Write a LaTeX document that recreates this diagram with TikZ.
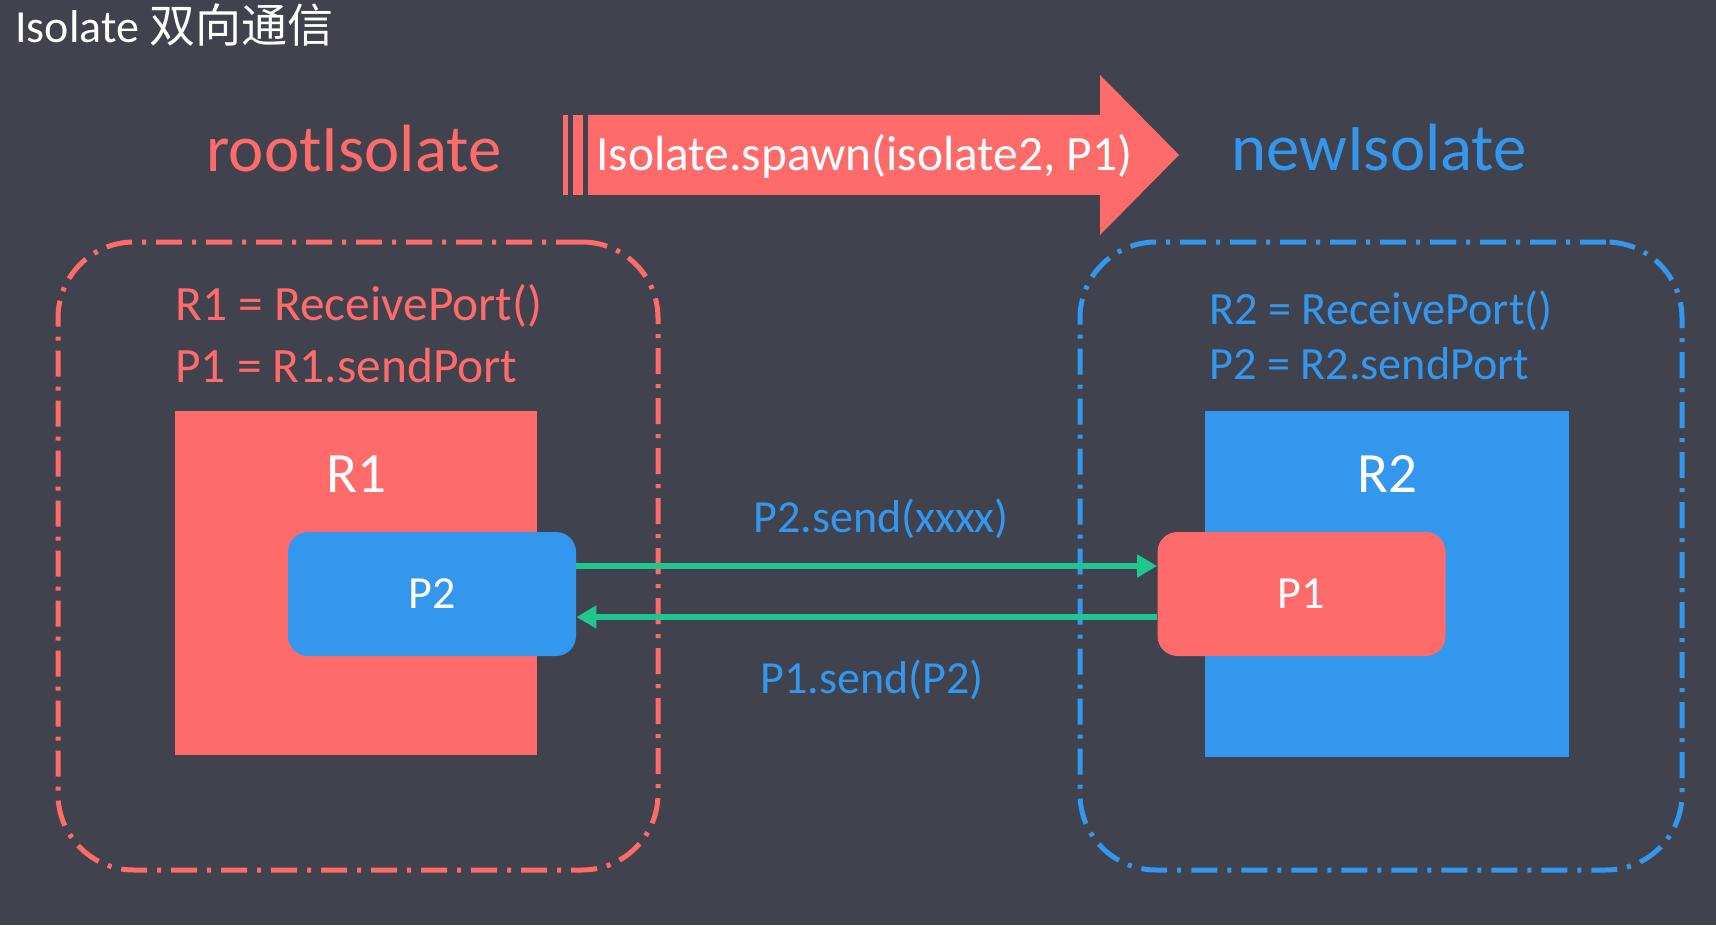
\documentclass[tikz,border=0pt]{standalone}
\usepackage{fontspec}
\setmainfont{Carlito}
\newfontfamily\cjk{Noto Sans CJK SC}
\usepackage{xcolor}
\usepackage{tikz}
\usetikzlibrary{arrows.meta, positioning}

\definecolor{bgdark}{HTML}{40424D}
\definecolor{sred}{HTML}{FF6B6B}
\definecolor{sblue}{HTML}{3497EE}
\definecolor{sgreen}{HTML}{1FC690}

\begin{document}
\begin{tikzpicture}[
    x=0.5pt, y=-0.5pt,
    isobox/.style={rectangle, draw, line width=2.5pt, rounded corners=38pt,
      dash pattern=on 13pt off 5pt on 2pt off 5pt,
      minimum width=300pt, minimum height=314pt},
    portbox/.style={rectangle, fill=#1, minimum width=181pt, minimum height=172pt},
    sendbox/.style={rectangle, rounded corners=10pt, fill=#1, text=white,
      minimum width=144pt, minimum height=62pt, font=\fontsize{23}{28}\selectfont},
    portlab/.style={text=white, font=\fontsize{28.5}{34}\selectfont},
    big/.style={font=\fontsize{33.4}{40}\selectfont, anchor=base},
    code/.style={font=\fontsize{24.7}{29}\selectfont, anchor=base west, inner sep=0pt},
    msg/.style={font=\fontsize{23}{28}\selectfont, text=sblue, anchor=base west, inner sep=0pt},
    flow/.style={draw=sgreen, line width=3pt, -{Triangle[length=10pt, width=11pt]}}
  ]
  \fill[bgdark] (0,0) rectangle (1716,925);
  \useasboundingbox (0,0) rectangle (1716,925);

  \node[anchor=base west, inner sep=0pt, text=white, font=\fontsize{23}{28}\selectfont]
    (title) at (15,43) {Isolate {\cjk 双向通信}};

  \node[big, text=sred] (rootname) at (354,172) {rootIsolate};
  \node[big, text=sblue] (newname) at (1379,171) {newIsolate};

  % spawn arrow
  \fill[sred] (563,115) rectangle (568,195);
  \fill[sred] (573,115) rectangle (583,195);
  \fill[sred] (588,115) -- (1100,115) -- (1100,75) -- (1179,155)
    -- (1100,235) -- (1100,195) -- (588,195) -- cycle;
  \node[code, text=white] (spawn) at (596,170) {Isolate.spawn(isolate2, P1)};

  % root isolate
  \node[isobox, draw=sred] (rootbox) at (358,556) {};
  \node[code, text=sred] (r1def) at (175,320) {R1 = ReceivePort()};
  \node[code, text=sred] (p1def) at (175,382) {P1 = R1.sendPort};
  \node[portbox=sred] (r1) at (356,583) {};
  \node[portlab] (r1lab) at (356,474.5) {R1};
  \node[sendbox=sblue] (p2) at (432,594) {P2};

  % new isolate
  \node[isobox, draw=sblue, minimum width=301pt] (newbox) at (1381,556) {};
  \node[code, text=sblue, font=\fontsize{23.1}{27}\selectfont] (r2def) at (1209,324) {R2 = ReceivePort()};
  \node[code, text=sblue, font=\fontsize{23.1}{27}\selectfont] (p2def) at (1209,379) {P2 = R2.sendPort};
  \node[portbox=sblue, minimum width=182pt, minimum height=173pt] (r2) at (1387,584) {};
  \node[portlab] (r2lab) at (1387,474.5) {R2};
  \node[sendbox=sred] (p1) at (1301.5,594) {P1};

  \draw[flow] ([yshift=14pt]p2.east) -- ([yshift=14pt]p1.west);
  \draw[flow] ([yshift=-11.5pt]p1.west) -- ([yshift=-11.5pt]p2.east);
  \node[msg] (sendx) at (753,532) {P2.send(xxxx)};
  \node[msg] (sendp) at (760,693) {P1.send(P2)};
\end{tikzpicture}
\end{document}
